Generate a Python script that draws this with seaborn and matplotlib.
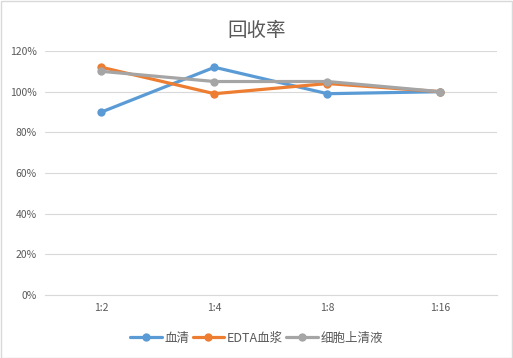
import numpy as np
import pandas as pd
import matplotlib
matplotlib.use("Agg")
import matplotlib.pyplot as plt
import seaborn as sns
from matplotlib.ticker import PercentFormatter

dilutions = ["1:2", "1:4", "1:8", "1:16"]
serumVals = [0.90, 1.12, 0.99, 1.00]
edtaVals = [1.12, 0.99, 1.04, 1.00]
cellVals = [1.10, 1.05, 1.05, 1.00]
seriesNames = ["血清", "EDTA血浆", "细胞上清液"]
palette = ["#5B9BD5", "#ED7D31", "#A5A5A5"]

rows = []
for name, vals in zip(seriesNames, [serumVals, edtaVals, cellVals]):
    for d, v in zip(dilutions, vals):
        rows.append({"dilution": d, "value": v, "series": name})
df = pd.DataFrame(rows)

sns.set_style("white")
plt.rcParams["font.family"] = ["Noto Sans CJK SC", "DejaVu Sans"]

fig = plt.figure(figsize=(5.13, 3.58), dpi=100, facecolor="white")
ax = fig.add_axes([0.0877, 0.176, 0.881, 0.6815])

sns.lineplot(
    data=df, x="dilution", y="value", hue="series",
    palette=palette, marker="o", markersize=6, markeredgewidth=0,
    linewidth=2.3, sort=False, ax=ax,
)

ax.set_ylim(0, 1.2)
ax.set_xlim(-0.5, 3.5)
ax.set_yticks(np.arange(0, 1.21, 0.2))
ax.yaxis.set_major_formatter(PercentFormatter(1.0, decimals=0))
ax.grid(axis="y", color="#D9D9D9", linewidth=0.8)
ax.set_axisbelow(True)
for spine in ax.spines.values():
    spine.set_visible(False)
ax.spines["bottom"].set_visible(True)
ax.spines["bottom"].set_color("#D9D9D9")
ax.tick_params(axis="both", length=0, labelsize=7.5, colors="#595959", pad=6)
ax.set_xlabel("")
ax.set_ylabel("")

fig.text(0.5, 0.915, "回收率", ha="center", va="center", fontsize=14,
         color="#595959", fontweight="light")

handles, labels = ax.get_legend_handles_labels()
ax.legend(
    handles, labels, loc="center", bbox_to_anchor=(0.5, 0.055),
    bbox_transform=fig.transFigure, ncol=3, frameon=False,
    fontsize=9, labelcolor="#595959", handlelength=2.5,
    columnspacing=0.3, handletextpad=0.2,
)

fig.patches.append(plt.Rectangle((0.001, 0.001), 0.997, 0.997, transform=fig.transFigure,
                                 fill=False, edgecolor="#D9D9D9", linewidth=1))

fig.savefig("out.png", dpi=100, facecolor="white")
